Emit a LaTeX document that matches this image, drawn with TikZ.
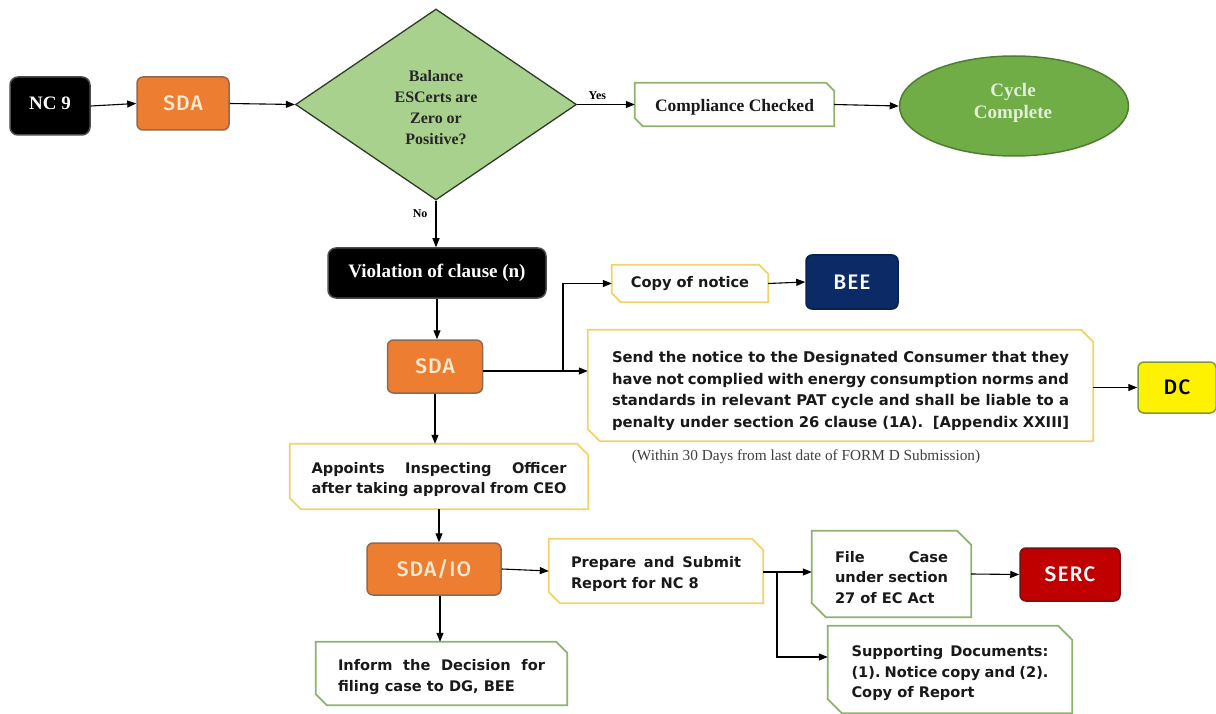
\documentclass[tikz,border=0pt]{standalone}
\usepackage{fontspec}
\setmainfont{Liberation Serif}
\newfontfamily\vsans{DejaVu Sans}
\newfontfamily\dsans[LetterSpace=5]{Fira Sans Medium}
\usetikzlibrary{arrows.meta,shapes.geometric}
\definecolor{orfill}{HTML}{ED7D31}
\definecolor{orline}{HTML}{8E6A55}
\definecolor{cream}{HTML}{FCE9D2}
\definecolor{diafill}{HTML}{A9D18E}
\definecolor{diline}{HTML}{2E3B28}
\definecolor{elfill}{HTML}{70AD47}
\definecolor{elline}{HTML}{4F7D33}
\definecolor{eltext}{HTML}{E2F0D9}
\definecolor{yline}{HTML}{F0D36A}
\definecolor{gline}{HTML}{8DB46F}
\definecolor{beefill}{HTML}{0C2A66}
\definecolor{beeline}{HTML}{082050}
\definecolor{dcline}{HTML}{7F9A3A}
\definecolor{sercfill}{HTML}{C00000}
\definecolor{sercline}{HTML}{7A1010}
\newcommand\snipframe[3]{\draw[line width=1.8pt,draw=#2,line join=miter] (#1.north west) -- ([xshift=-#3]#1.north east) -- ([yshift=-#3]#1.north east) -- (#1.south east) -- ([xshift=#3]#1.south west) -- ([yshift=#3]#1.south west) -- cycle;}
\newcommand\jl[2]{\makebox[#1][s]{\frenchspacing\spaceskip=0.33em plus 10em minus 0.1em\relax #2}}
\newcommand\pb[3]{\raisebox{#2}[\height][\depth]{\parbox{#1}{#3}}}
\newcommand\rb[2]{\raisebox{#1}[\height][\depth]{#2}}
\begin{document}
\begin{tikzpicture}[x=1pt,y=-1pt,
  arr/.style={draw=black,line width=1.1pt,-{Triangle[length=9pt,width=7pt]}},
  solidbox/.style={rounded corners=6pt,line width=1.5pt,inner sep=0pt},
  blackbox/.style={solidbox,rounded corners=8pt,fill=black,draw=black!70,text=white,font=\bfseries\fontsize{19}{22}\selectfont},
  orangebox/.style={solidbox,fill=orfill,draw=orline,text=cream,font=\dsans\fontsize{21}{24}\selectfont},
  colbox/.style={solidbox,font=\dsans\fontsize{21}{24}\selectfont},
  snipnode/.style={inner sep=0pt,align=left,text=black!90,font=\vsans\bfseries\fontsize{14.6}{20.5}\selectfont},
  lbl/.style={font=\bfseries\fontsize{12}{14}\selectfont,inner sep=0pt}]
\useasboundingbox (0,0) rectangle (1216,714);
% top row
\node[blackbox,minimum width=80pt,minimum height=58pt] (nc9) at (50,106) {\rb{3pt}{NC 9}};
\node[orangebox,minimum width=92pt,minimum height=53pt] (sda1) at (183,103.5) {SDA};
\node[diamond,draw=diline,fill=diafill,line width=1.3pt,inner sep=0pt,minimum width=281pt,minimum height=191pt] (dia) at (436,104.5) {};
\node[align=center,font=\bfseries\fontsize{16}{21}\selectfont,text=black!85] (diat) at (436,108) {Balance\\ESCerts are\\Zero or\\Positive?};
\node[snipnode,font=\bfseries\fontsize{17.5}{20}\selectfont,align=center,minimum width=199pt,minimum height=43pt] (comp) at (734.5,104.5) {\rb{-3pt}{Compliance Checked}};
\snipframe{comp}{gline}{8pt}
\node[ellipse,fill=elfill,draw=elline,line width=1.5pt,minimum width=229pt,minimum height=100pt,inner sep=0pt] (cyc) at (1014,106) {};
\node[align=center,text=eltext,font=\bfseries\fontsize{19}{22}\selectfont] (cyct) at (1013,103) {Cycle\\Complete};
% middle
\node[blackbox,minimum width=218pt,minimum height=50pt] (viol) at (437,273) {Violation of clause (n)};
\node[orangebox,minimum width=95pt,minimum height=53pt] (sda2) at (435,366.5) {SDA};
\node[snipnode,minimum width=156pt,minimum height=37pt,align=center] (copy) at (690,283.5) {Copy of notice};
\snipframe{copy}{yline}{9pt}
\node[colbox,fill=beefill,draw=beeline,text=white,minimum width=92pt,minimum height=54pt] (bee) at (852,282) {BEE};
\node[snipnode,font=\vsans\bfseries\fontsize{14.8}{21.7}\selectfont,minimum width=505pt,minimum height=111pt] (notice) at (840.5,385.5) {\pb{457pt}{-5.5pt}{\jl{457pt}{Send the notice to the Designated Consumer that they}\\\jl{457pt}{have not complied with energy consumption norms and}\\\jl{457pt}{standards in relevant PAT cycle and shall be liable to a}\\\jl{457pt}{penalty under section 26 clause (1A).\ \ [Appendix XXIII]}}};
\snipframe{notice}{yline}{12pt}
\node[colbox,fill=yellow,draw=dcline,text=black,minimum width=78pt,minimum height=51pt] (dc) at (1177,387.5) {DC};
\node[font=\fontsize{15.3}{17}\selectfont,text=black!75,inner sep=0pt] (within) at (806,457) {(Within 30 Days from last date of FORM D Submission)};
% lower
\node[snipnode,minimum width=298pt,minimum height=65pt] (appt) at (439,476.5) {\pb{255pt}{-3pt}{\jl{255pt}{Appoints Inspecting Officer}\\\jl{255pt}{after taking approval from CEO}}};
\snipframe{appt}{yline}{11pt}
\node[orangebox,minimum width=134pt,minimum height=52pt] (sdaio) at (434,569) {SDA/IO};
\node[snipnode,minimum width=214pt,minimum height=64pt] (prep) at (656,571) {\pb{170pt}{-3pt}{\jl{170pt}{Prepare and Submit}\\Report for NC 8}};
\snipframe{prep}{yline}{11pt}
\node[snipnode,minimum width=159pt,minimum height=86pt] (file) at (891.5,574) {\pb{113pt}{-3.5pt}{\jl{113pt}{File Case}\\under section\\27 of EC Act}};
\snipframe{file}{gline}{14pt}
\node[colbox,fill=sercfill,draw=sercline,text=white,minimum width=100pt,minimum height=53pt] (serc) at (1070,574.5) {SERC};
\node[snipnode,minimum width=244pt,minimum height=87pt] (supp) at (950,669.5) {\pb{197pt}{-4pt}{\jl{197pt}{Supporting Documents:}\\\jl{197pt}{(1). Notice copy and (2).}\\Copy of Report}};
\snipframe{supp}{gline}{14pt}
\node[snipnode,minimum width=251pt,minimum height=63pt] (inform) at (441.5,673.5) {\pb{207pt}{-3.5pt}{\jl{207pt}{Inform the Decision for}\\filing case to DG, BEE}};
\snipframe{inform}{gline}{11pt}
% connectors
\coordinate (br1) at (563,371);
\coordinate (br2) at (777,572);
\coordinate (br3) at (777,657);
\draw[arr] (nc9.east) -- (sda1.west);
\draw[arr] (sda1.east) -- (dia.west);
\draw[arr] (dia.east) -- (comp.west) node[lbl,pos=0.35,above=4pt] {Yes};
\draw[arr] (comp.east) -- (cyc.west);
\draw[arr] (dia.south) -- (dia.south |- viol.north) node[lbl,pos=0.28,left=8pt] {No};
\draw[arr] (viol.south) -- (viol.south |- sda2.north);
\draw[line width=1.1pt] (sda2.east |- br1) -- (br1);
\draw[arr] (br1) |- (copy.west);
\draw[arr] (br1) -- (notice.west |- br1);
\draw[arr] (copy.east) -- (bee.west);
\draw[arr] (notice.east |- dc.west) -- (dc.west);
\draw[arr] (sda2.south) -- (sda2.south |- appt.north);
\draw[arr] (appt.south) -- (appt.south |- sdaio.north);
\draw[arr] (sdaio.east) -- (prep.west);
\draw[line width=1.1pt] (prep.east |- br2) -- (br2);
\draw[arr] (br2) -- (file.west |- br2);
\draw[arr] (br2) -- (br3) -- (supp.west |- br3);
\draw[arr] (file.east) -- (serc.west);
\draw[arr] ([xshift=6pt]sdaio.south) -- ([xshift=6pt]sdaio.south |- inform.north);
\end{tikzpicture}
\end{document}
